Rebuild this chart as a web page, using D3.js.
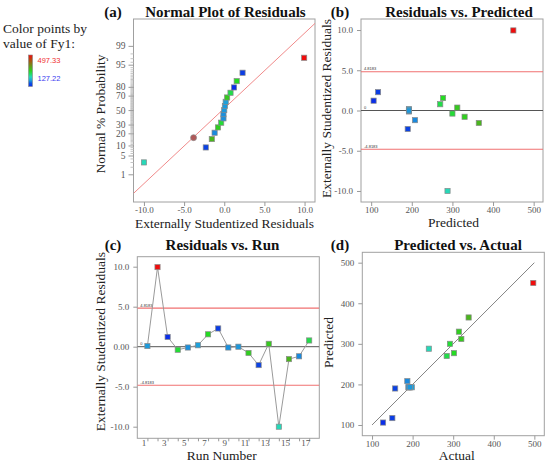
<!DOCTYPE html>
<html><head><meta charset="utf-8">
<script src="https://cdn.jsdelivr.net/npm/d3@7"></script>
<style>
body{margin:0;background:#fff}
svg{display:block}
</style>
</head><body>
<svg id="chart" width="550" height="466" font-family="'Liberation Serif', 'DejaVu Serif', serif"></svg>
<script>
// ---------------- DATA ----------------
const runs      = [1, 2, 3, 4, 5, 6, 7, 8, 9, 10, 11, 12, 13, 14, 15, 16, 17];
const actual    = [194, 497.33, 127.22, 292, 190, 198, 302, 150, 190, 193, 314, 157, 320, 240, 338, 187, 284];
const predicted = [193, 450, 106, 300, 193, 193, 277, 117, 193, 193, 330, 190, 312, 288, 365, 208, 270];
const residual  = [0.08, 9.95, 1.22, -0.38, -0.1, 0.18, 1.55, 2.28, -0.1, 0.0, -0.78, -2.3, 0.36, -10.0, -1.55, -1.2, 0.78];
// normal % probability of the sorted residuals
const normalProb = [2.9, 8.8, 14.7, 20.6, 26.5, 32.4, 38.2, 44.1, 50, 55.9, 61.8, 67.6, 73.5, 79.4, 85.3, 91.2, 97.1];
// highlighted point in panel (a)
const markedResid = [-3.82];
const markedProb  = [15.9];
// reference line of panel (a)
const normalLineResid = [-11.3, 11.3];
const normalLineProb  = [0.127, 99.916];
// outlier limits
const limitValue = 4.8183;
const limitLabels = ["4.8183", "-4.8183"];
// diagonal of panel (d)
const diagonal = [100, 500];
// tick labels
const probTicks = [1, 5, 10, 20, 30, 50, 70, 80, 95, 99];
const residTicksA = [-10, -5, 0, 5, 10];
const residTicks = [-10, -5, 0, 5, 10];
const predTicks = [100, 200, 300, 400, 500];
// colour legend
const fyMax = 497.33, fyMin = 127.22;
const colorDomain = [127.22, 160, 195, 240, 300, 497.33];
const colorRange  = ["#0a2ee8", "#0b44e2", "#1e9ddc", "#26d8b8", "#22dd22", "#f00c0c"];

// ---------------- HELPERS ----------------
const SERIF = "'Liberation Serif', 'DejaVu Serif', serif";
const SANS = "'Liberation Sans', 'DejaVu Sans', sans-serif";
const svg = d3.select("#chart");
const color = d3.scaleLinear().domain(colorDomain).range(colorRange).interpolate(d3.interpolateRgb);

function probit(p){ // inverse standard normal CDF (Acklam)
  const a=[-39.69683028665376,220.9460984245205,-275.9285104469687,138.3577518672690,-30.66479806614716,2.506628277459239];
  const b=[-54.47609879822406,161.5858368580409,-155.6989798598866,66.80131188771972,-13.28068155288572];
  const c=[-0.007784894002430293,-0.3223964580411365,-2.400758277161838,-2.549732539343734,4.374664141464968,2.938163982698783];
  const d=[0.007784695709041462,0.3224671290700398,2.445134137142996,3.754408661907416];
  const pl=0.02425, ph=1-pl; let q,r;
  if(p<pl){q=Math.sqrt(-2*Math.log(p));return (((((c[0]*q+c[1])*q+c[2])*q+c[3])*q+c[4])*q+c[5])/((((d[0]*q+d[1])*q+d[2])*q+d[3])*q+1);}
  if(p<=ph){q=p-0.5;r=q*q;return (((((a[0]*r+a[1])*r+a[2])*r+a[3])*r+a[4])*r+a[5])*q/(((((b[0]*r+b[1])*r+b[2])*r+b[3])*r+b[4])*r+1);}
  q=Math.sqrt(-2*Math.log(1-p));return -(((((c[0]*q+c[1])*q+c[2])*q+c[3])*q+c[4])*q+c[5])/((((d[0]*q+d[1])*q+d[2])*q+d[3])*q+1);
}

let clipId = 0;
function panel(box){
  const g = svg.append("g");
  const id = "clip" + (clipId++);
  svg.append("defs").append("clipPath").attr("id", id).append("rect")
    .attr("x", box.x0).attr("y", box.y0).attr("width", box.x1 - box.x0).attr("height", box.y1 - box.y0);
  g.append("rect").attr("x", box.x0).attr("y", box.y0).attr("width", box.x1 - box.x0).attr("height", box.y1 - box.y0)
    .attr("fill", "none").attr("stroke", "#a0a0a0").attr("stroke-width", 1);
  const inner = g.append("g").attr("clip-path", `url(#${id})`);
  return {g, inner};
}
function styleAxis(sel, fs){
  sel.attr("font-family", SERIF);
  sel.select(".domain").remove();
  sel.selectAll(".tick line").attr("stroke", "#999");
  sel.selectAll(".tick text").attr("fill", "#555").attr("font-size", fs || 9).attr("font-family", SERIF);
}
function squares(sel, data, xf, yf, cf){
  sel.selectAll(null).data(data).enter().append("rect")
    .attr("x", d => xf(d) - 2.6).attr("y", d => yf(d) - 2.6)
    .attr("width", 5.2).attr("height", 5.2)
    .attr("fill", cf).attr("stroke", "#8a8a8a").attr("stroke-width", 0.7);
}
function title(letterX, titleX, y, letter, text){
  svg.append("text").attr("x", letterX).attr("y", y).attr("text-anchor", "middle").attr("font-family", SERIF)
    .attr("font-size", 15).attr("font-weight", "bold").attr("fill", "#111").text(letter);
  svg.append("text").attr("x", titleX).attr("y", y).attr("text-anchor", "middle").attr("font-family", SERIF)
    .attr("font-size", 15).attr("font-weight", "bold").attr("fill", "#111").text(text);
}
function xLabel(x, y, t){
  svg.append("text").attr("x", x).attr("y", y).attr("text-anchor", "middle").attr("font-family", SERIF)
    .attr("font-size", 13.5).attr("fill", "#222").text(t);
}
function yLabel(x, y, t){
  svg.append("text").attr("transform", `translate(${x},${y}) rotate(-90)`).attr("text-anchor", "middle")
    .attr("font-family", SERIF).attr("font-size", 13.5).attr("fill", "#222").text(t);
}
function limitLines(inner, box, y){
  [limitValue, -limitValue].forEach((v, i) => {
    inner.append("line").attr("x1", box.x0).attr("x2", box.x1).attr("y1", y(v)).attr("y2", y(v))
      .attr("stroke", "#f07070").attr("stroke-width", 1.1);
    inner.append("text").attr("x", box.x0 + 3).attr("y", y(v) - 1.5).attr("font-size", 4)
      .attr("font-family", SANS).attr("fill", "#333").text(limitLabels[i]);
  });
  inner.append("line").attr("x1", box.x0).attr("x2", box.x1).attr("y1", y(0)).attr("y2", y(0))
    .attr("stroke", "#555").attr("stroke-width", 1);
  inner.append("text").attr("x", box.x0 + 3).attr("y", y(0) - 1.5).attr("font-size", 4)
    .attr("font-family", SANS).attr("fill", "#333").text("0");
}

// ---------------- LEGEND ----------------
svg.append("text").attr("x", 3).attr("y", 33).attr("font-family", SERIF).attr("font-size", 13.5).attr("fill", "#222").text("Color points by");
svg.append("text").attr("x", 3).attr("y", 48).attr("font-family", SERIF).attr("font-size", 13.5).attr("fill", "#222").text("value of Fy1:");
const grad = svg.append("defs").append("linearGradient").attr("id", "fygrad")
  .attr("x1", 0).attr("x2", 0).attr("y1", 0).attr("y2", 1);
d3.range(0, 1.0001, 0.1).forEach(t => {
  grad.append("stop").attr("offset", t).attr("stop-color", color(fyMax - t * (fyMax - fyMin)));
});
svg.append("rect").attr("x", 28.5).attr("y", 55).attr("width", 4).attr("height", 31.5)
  .attr("fill", "url(#fygrad)").attr("stroke", "#888").attr("stroke-width", 0.6);
svg.append("text").attr("x", 37.5).attr("y", 63).attr("font-size", 7.5).attr("fill", "#f03030")
  .attr("font-family", SANS).text(fyMax.toFixed(2));
svg.append("text").attr("x", 37.5).attr("y", 81).attr("font-size", 7.5).attr("fill", "#3a3af0")
  .attr("font-family", SANS).text(fyMin.toFixed(2));

// ---------------- (a) NORMAL PLOT ----------------
{
  const box = {x0: 133.5, x1: 315, y0: 19, y1: 202};
  const {g, inner} = panel(box);
  const x = d3.scaleLinear().domain([-11.3, 11.3]).range([box.x0, box.x1]);
  const yz = d3.scaleLinear().domain([-3.33, 3.30]).range([box.y1, box.y0]);
  const y = p => yz(probit(p / 100));
  const minor = d3.range(1, 100).filter(p => !probTicks.includes(p));
  const ym = g.append("g").attr("transform", `translate(${box.x0},0)`)
    .call(d3.axisLeft(yz).tickValues(minor.map(p => probit(p / 100))).tickSize(3).tickFormat(""));
  styleAxis(ym); ym.selectAll(".tick line").attr("stroke", "#c4c4c4");
  const ya = g.append("g").attr("transform", `translate(${box.x0},0)`)
    .call(d3.axisLeft(yz).tickValues(probTicks.map(p => probit(p / 100))).tickSize(5).tickPadding(3)
      .tickFormat((d, i) => probTicks[i]));
  styleAxis(ya, 9.5);
  const xa = g.append("g").attr("transform", `translate(0,${box.y1})`)
    .call(d3.axisBottom(x).tickValues(residTicksA).tickSize(4).tickPadding(1).tickFormat(d => d3.format(".1f")(d).replace("−", "-")));
  styleAxis(xa, 9);
  inner.append("line")
    .attr("x1", x(normalLineResid[0])).attr("y1", y(normalLineProb[0]))
    .attr("x2", x(normalLineResid[1])).attr("y2", y(normalLineProb[1]))
    .attr("stroke", "#f08a8a").attr("stroke-width", 1);
  const order = d3.range(runs.length).sort((i, j) => residual[i] - residual[j]);
  const pts = order.map((idx, k) => ({r: residual[idx], p: normalProb[k], a: actual[idx]}));
  inner.selectAll(null).data(markedResid).enter().append("circle")
    .attr("cx", d => x(d)).attr("cy", (d, i) => y(markedProb[i])).attr("r", 3)
    .attr("fill", "#b05858").attr("stroke", "#8a8a8a").attr("stroke-width", 0.7);
  squares(inner, pts, d => x(d.r), d => y(d.p), d => color(d.a));
  title(113, 225.5, 17, "(a)", "Normal Plot of Residuals");
  xLabel(224.5, 227.5, "Externally Studentized Residuals");
  yLabel(105, 114, "Normal % Probability");
}

// ---------------- (b) RESIDUALS VS PREDICTED ----------------
{
  const box = {x0: 361, x1: 543, y0: 19, y1: 202};
  const {g, inner} = panel(box);
  const x = d3.scaleLinear().domain([75, 523]).range([box.x0, box.x1]);
  const y = d3.scaleLinear().domain([-11.37, 11.37]).range([box.y1, box.y0]);
  const ya = g.append("g").attr("transform", `translate(${box.x0},0)`)
    .call(d3.axisLeft(y).tickValues(residTicks).tickSize(4).tickPadding(4).tickFormat(d => d3.format(".1f")(d).replace("−", "-")));
  styleAxis(ya, 9);
  const xa = g.append("g").attr("transform", `translate(0,${box.y1})`)
    .call(d3.axisBottom(x).tickValues(predTicks).tickSize(4).tickPadding(1));
  styleAxis(xa, 9);
  limitLines(inner, box, y);
  squares(inner, runs.map((r, i) => i), i => x(predicted[i]), i => y(residual[i]), i => color(actual[i]));
  title(340, 459, 17, "(b)", "Residuals vs. Predicted");
  xLabel(453.5, 227, "Predicted");
  yLabel(331, 108.5, "Externally Studentized Residuals");
}

// ---------------- (c) RESIDUALS VS RUN ----------------
{
  const box = {x0: 137.3, x1: 319.3, y0: 256.7, y1: 438.3};
  const {g, inner} = panel(box);
  const x = d3.scaleLinear().domain([0, 18]).range([box.x0, box.x1]);
  const y = d3.scaleLinear().domain([-11.45, 11.25]).range([box.y1, box.y0]);
  const ya = g.append("g").attr("transform", `translate(${box.x0},0)`)
    .call(d3.axisLeft(y).tickValues(residTicks).tickSize(4).tickPadding(4)
      .tickFormat(d => d === 0 ? "0.00" : d3.format(".1f")(d).replace("−", "-")));
  styleAxis(ya, 9);
  const xa = g.append("g").attr("transform", `translate(0,${box.y1})`)
    .call(d3.axisBottom(x).tickValues(runs).tickSize(3).tickPadding(-1.5).tickFormat(d => d % 2 ? d : ""));
  styleAxis(xa, 9);
  xa.selectAll(".tick text").attr("dx", -4);
  limitLines(inner, box, y);
  inner.append("path").datum(runs.map((r, i) => i))
    .attr("d", d3.line().x(i => x(runs[i])).y(i => y(residual[i])))
    .attr("fill", "none").attr("stroke", "#9a9a9a").attr("stroke-width", 1);
  squares(inner, runs.map((r, i) => i), i => x(runs[i]), i => y(residual[i]), i => color(actual[i]));
  title(113, 222.5, 250, "(c)", "Residuals vs. Run");
  xLabel(221.7, 460, "Run Number");
  yLabel(104.5, 341.7, "Externally Studentized Residuals");
}

// ---------------- (d) PREDICTED VS ACTUAL ----------------
{
  const box = {x0: 362.3, x1: 544.3, y0: 252.3, y1: 435.7};
  const {g, inner} = panel(box);
  const x = d3.scaleLinear().domain([76, 524.5]).range([box.x0, box.x1]);
  const y = d3.scaleLinear().domain([73.6, 525.6]).range([box.y1, box.y0]);
  const ya = g.append("g").attr("transform", `translate(${box.x0},0)`)
    .call(d3.axisLeft(y).tickValues(predTicks).tickSize(4).tickPadding(4));
  styleAxis(ya, 9);
  const xa = g.append("g").attr("transform", `translate(0,${box.y1})`)
    .call(d3.axisBottom(x).tickValues(predTicks).tickSize(4).tickPadding(1));
  styleAxis(xa, 9);
  inner.append("line").attr("x1", x(diagonal[0])).attr("y1", y(diagonal[0]))
    .attr("x2", x(diagonal[1])).attr("y2", y(diagonal[1]))
    .attr("stroke", "#777").attr("stroke-width", 0.9);
  squares(inner, runs.map((r, i) => i), i => x(actual[i]), i => y(predicted[i]), i => color(actual[i]));
  title(340, 458, 250, "(d)", "Predicted vs. Actual");
  xLabel(456.7, 460, "Actual");
  yLabel(333, 342.5, "Predicted");
}
</script>
</body></html>
